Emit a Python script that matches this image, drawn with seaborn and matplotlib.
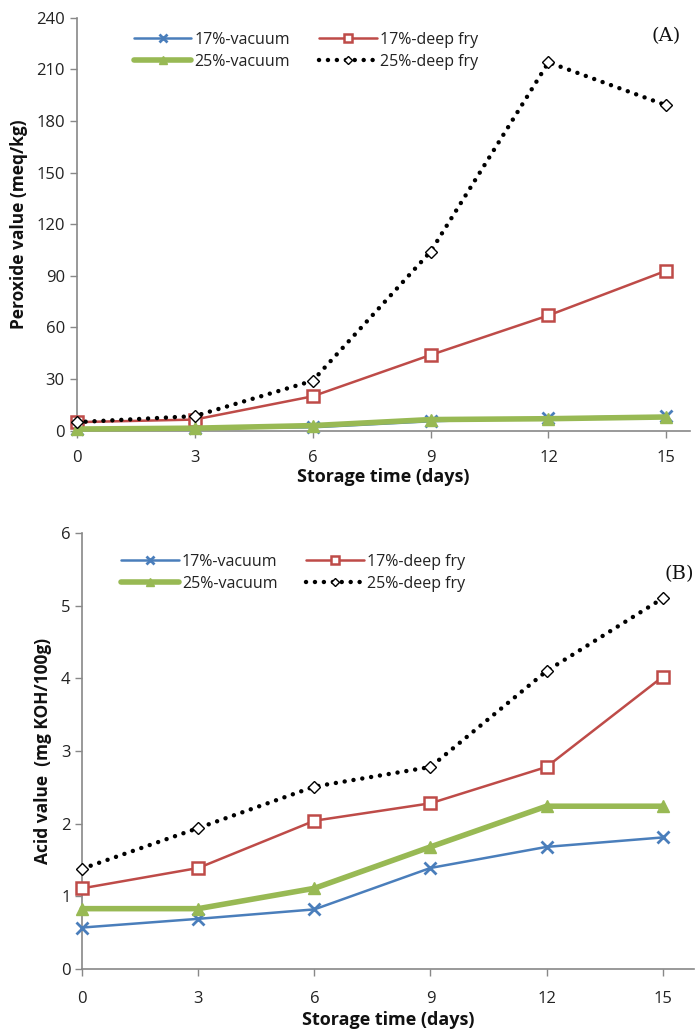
import matplotlib
matplotlib.use("Agg")
import matplotlib.pyplot as plt
import seaborn as sns
import pandas as pd

days = [0, 3, 6, 9, 12, 15]
series_names = ["17%-vacuum", "17%-deep fry", "25%-vacuum", "25%-deep fry"]

# Panel A: peroxide value (meq/kg)
pv_17_vacuum = [1, 1.5, 2, 5.5, 7.5, 8.5]
pv_17_deepfry = [5, 6.5, 20, 44, 67, 93]
pv_25_vacuum = [1, 1.5, 3, 6.5, 7, 8]
pv_25_deepfry = [5, 8.5, 29, 104, 214, 189]

# Panel B: acid value (mg KOH/100g)
av_17_vacuum = [0.57, 0.69, 0.82, 1.39, 1.68, 1.81]
av_17_deepfry = [1.11, 1.39, 2.04, 2.28, 2.78, 4.02]
av_25_vacuum = [0.83, 0.83, 1.11, 1.68, 2.24, 2.24]
av_25_deepfry = [1.38, 1.94, 2.51, 2.78, 4.1, 5.1]

sns.set_theme(style="white")
plt.rcParams["font.family"] = ["Open Sans", "DejaVu Sans"]

styles = {
    "17%-vacuum": dict(color="#4a7ebb", lw=1.8, marker="x", ms=8, mew=2.0,
                       mfc="#4a7ebb", mec="#4a7ebb", ls="-"),
    "17%-deep fry": dict(color="#be4b48", lw=1.8, marker="s", ms=8, mew=1.8,
                         mfc="white", mec="#be4b48", ls="-"),
    "25%-vacuum": dict(color="#98b954", lw=4.0, marker="^", ms=8, mew=1,
                       mfc="#98b954", mec="#98b954", ls="-"),
    "25%-deep fry": dict(color="black", lw=3.2, marker="D", ms=6, mew=1.0,
                         mfc="white", mec="black", ls=(0, (0.01, 2.0))),
}

fig = plt.figure(figsize=(6.97, 10.33), dpi=100)
axA = fig.add_axes([0.110, 0.583, 0.880, 0.400])
axB = fig.add_axes([0.118, 0.062, 0.877, 0.422])


def draw(ax, vals, ylim, yticks, ylabel, tag, tagpos, legpos, xmax,
         tickpad, xlabelpad):
    df = pd.DataFrame({
        "day": days * 4,
        "value": sum(vals, []),
        "series": sum([[n] * len(days) for n in series_names], []),
    })
    for name in series_names:
        st = styles[name]
        sub = df[df["series"] == name]
        sns.lineplot(data=sub, x="day", y="value", ax=ax, color=st["color"],
                     linewidth=st["lw"], linestyle=st["ls"], marker=st["marker"],
                     markersize=st["ms"], markeredgewidth=st["mew"],
                     markerfacecolor=st["mfc"], markeredgecolor=st["mec"],
                     label=name, clip_on=False, dash_capstyle="round",
                     zorder=3)
    ax.set_xlim(0, xmax)
    ax.set_ylim(*ylim)
    ax.set_xticks(days)
    ax.set_yticks(yticks)
    ax.tick_params(axis="both", which="both", length=5, width=1, color="#888888",
                   labelsize=12, labelcolor="#222222", bottom=True, left=True,
                   direction="out")
    ax.tick_params(axis="x", pad=tickpad)
    for side in ["top", "right"]:
        ax.spines[side].set_visible(False)
    for side in ["left", "bottom"]:
        ax.spines[side].set_color("#888888")
        ax.spines[side].set_linewidth(1.2)
    ax.set_xlabel("Storage time (days)", fontsize=13, fontweight="bold",
                  color="#111111", labelpad=xlabelpad)
    ax.set_ylabel(ylabel, fontsize=12.5, fontweight="bold", color="#111111",
                  labelpad=6)
    ax.text(tagpos[0], tagpos[1], tag, transform=ax.transAxes, fontsize=14,
            family="DejaVu Serif", ha="right", va="center", color="#111111")
    handles, labels = ax.get_legend_handles_labels()
    order = [0, 2, 1, 3]
    leg = ax.legend([handles[i] for i in order], [labels[i] for i in order],
                    loc="upper left", bbox_to_anchor=legpos, ncol=2,
                    frameon=False, fontsize=11.5, handlelength=3.6,
                    handletextpad=0.2, columnspacing=1.8, labelspacing=0.35,
                    markerscale=0.7)
    for t in leg.get_texts():
        t.set_color("#222222")


draw(axA, [pv_17_vacuum, pv_17_deepfry, pv_25_vacuum, pv_25_deepfry],
     (0, 240), [0, 30, 60, 90, 120, 150, 180, 210, 240],
     "Peroxide value (meq/kg)", "(A)", (0.985, 0.955), (0.07, 1.0), 15.6,
     9, 1)
draw(axB, [av_17_vacuum, av_17_deepfry, av_25_vacuum, av_25_deepfry],
     (0, 6), [0, 1, 2, 3, 4, 5, 6],
     "Acid value  (mg KOH/100g)", "(B)", (1.0, 0.905), (0.04, 0.985), 15.8,
     11, 3)

fig.savefig("out.png", dpi=100)
